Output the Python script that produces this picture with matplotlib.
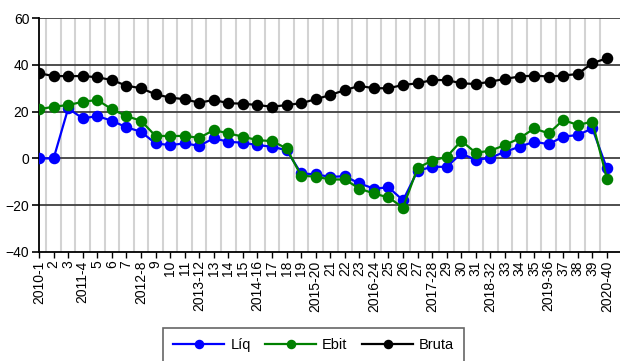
import matplotlib
matplotlib.use("Agg")
import matplotlib.pyplot as plt
import numpy as np

plt.rcParams['font.family'] = ['Liberation Sans', 'DejaVu Sans']

labels = ["2010-1", "2", "3", "2011-4", "5", "6", "7", "2012-8", "9", "10",
          "11", "2013-12", "13", "14", "15", "2014-16", "17", "18", "19", "2015-20",
          "21", "22", "23", "2016-24", "25", "26", "27", "2017-28", "29", "30",
          "31", "2018-32", "33", "34", "35", "2019-36", "37", "38", "39", "2020-40"]

liq = [0.0, 0.0, 21.4, 17.1, 18.1, 16.1, 13.3, 11.4, 6.4, 5.7,
       6.4, 5.4, 8.6, 7.1, 6.7, 5.7, 5.0, 3.5, -6.4, -6.8,
       -7.9, -7.6, -10.7, -12.9, -12.4, -17.9, -5.3, -3.6, -3.6, 2.1,
       -0.7, 0.3, 2.8, 5.0, 7.1, 6.1, 9.3, 10.0, 12.8, -4.3]

ebit = [21.0, 22.1, 22.8, 24.2, 25.0, 21.0, 18.1, 16.1, 9.6, 9.6,
        9.6, 8.8, 12.1, 10.7, 9.3, 7.8, 7.4, 4.3, -7.4, -7.8,
        -9.0, -9.0, -12.9, -15.0, -16.7, -21.0, -4.0, -1.0, 0.7, 7.5,
        2.4, 3.3, 5.7, 8.6, 12.8, 10.7, 16.4, 14.3, 15.7, -8.6]

bruta = [36.4, 35.2, 35.2, 35.2, 34.7, 33.5, 31.1, 30.0, 27.4, 26.0,
         25.3, 23.8, 25.0, 23.6, 23.4, 22.8, 22.1, 22.8, 23.6, 25.3,
         27.1, 29.2, 31.0, 30.0, 30.0, 31.4, 32.1, 33.5, 33.5, 32.1,
         31.8, 32.8, 34.0, 35.0, 35.4, 35.0, 35.4, 36.1, 40.7, 42.8]

x = np.arange(len(labels))

fig = plt.figure(figsize=(6.2, 3.61), dpi=100)
ax = fig.add_axes([0.063, 0.302, 0.937, 0.648])

# light vertical grid between categories, dark horizontal grid at y ticks
for xv in x[:-1] + 0.5:
    ax.axvline(xv, color="#d3d3d3", lw=1.5, zorder=0)
for yv in [-20, 0, 20, 40, 60]:
    ax.axhline(yv, color="#404040", lw=1.3, zorder=0.5)

ms = 7.3
ax.plot(x, liq, color="#0000ff", lw=1.6, marker="o", ms=ms, label="Líq", zorder=3)
ax.plot(x, ebit, color="#008000", lw=1.6, marker="o", ms=ms, label="Ebit", zorder=4)
ax.plot(x, bruta, color="black", lw=1.6, marker="o", ms=ms, label="Bruta", zorder=5)

ax.set_xlim(0, 39.9)
ax.set_ylim(-40, 60)
ax.set_yticks([-40, -20, 0, 20, 40, 60])
ax.set_xticks(x)
ax.set_xticklabels(labels, rotation=90, fontsize=10)
ax.tick_params(axis="y", labelsize=10, length=5, width=1.2, pad=2)
ax.tick_params(axis="x", length=4, width=1, pad=2)

for s in ["top", "right"]:
    ax.spines[s].set_visible(False)
ax.spines["left"].set_linewidth(1.3)
ax.spines["bottom"].set_linewidth(1.3)

leg = fig.legend(loc="upper center", bbox_to_anchor=(0.506, 0.0915), ncol=3,
                 fontsize=10.5, handlelength=3.5, frameon=True, fancybox=False,
                 borderpad=0.7, borderaxespad=0, columnspacing=1.0,
                 handletextpad=0.4, markerscale=0.8)
leg.get_frame().set_edgecolor("#404040")
leg.get_frame().set_linewidth(1.2)

fig.savefig("out.png", dpi=100)
